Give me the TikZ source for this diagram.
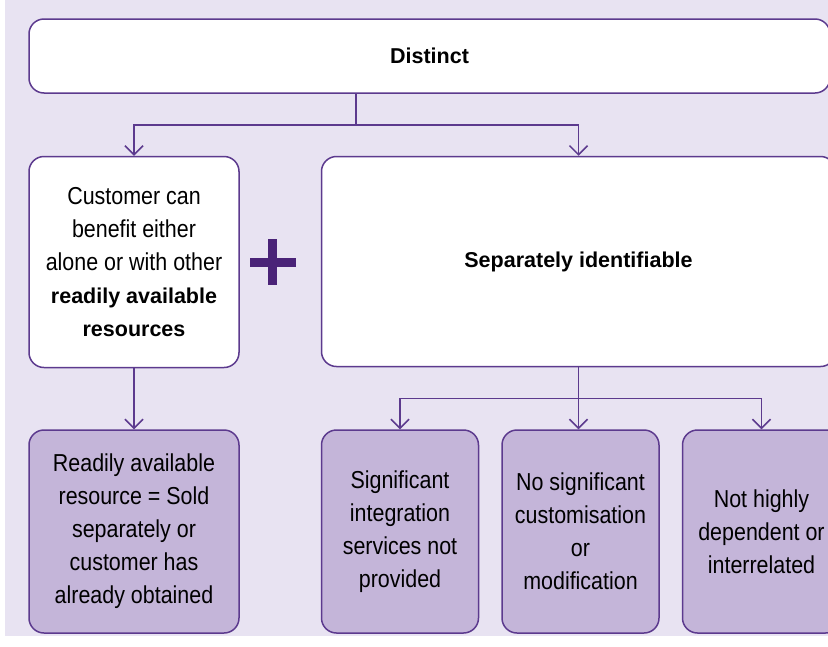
\documentclass[tikz,border=0pt]{standalone}
\usepackage{fontspec}
\setmainfont{Liberation Sans}
\newfontfamily\condfont[FakeStretch=0.875]{Liberation Sans}
\usetikzlibrary{positioning}
\usetikzlibrary{arrows.meta}
\definecolor{bgLav}{HTML}{E8E3F2}
\definecolor{lineP}{HTML}{5C3A8E}
\definecolor{fillP}{HTML}{C4B5D9}
\definecolor{plusP}{HTML}{4A2378}
\newcommand{\Tbody}{\condfont\fontsize{24.5}{33}\selectfont}
\newcommand{\Thead}{\rmfamily\bfseries\fontsize{21.5}{33}\selectfont}
\tikzstyle{critW} = [rectangle, rounded corners=15pt, draw=lineP, line width=1.5pt, fill=white, align=center, inner sep=0pt, font=\Tbody]
\tikzstyle{critP} = [critW, fill=fillP]
\tikzstyle{link} = [draw=lineP, line width=1.5pt]
\tikzstyle{linkD} = [link, -{Straight Barb[length=9pt,width=18pt]}]

\begin{document}
\begin{tikzpicture}[x=1pt, y=-1pt]
\useasboundingbox (0,0) rectangle (828,646);
\fill[bgLav] (5,0) rectangle (828,636);

% Define nodes
\node[critW, minimum width=801pt, minimum height=74pt]              (top)    at (429.5,56) {\Thead Distinct};
\node[critW, below right = 62pt and 0pt of top.south west, minimum width=210pt, minimum height=211pt] (benefit)
  {Customer can\\benefit either\\alone or with other\\{\Thead readily available}\\{\Thead resources}};
\node[critW, right = 81pt of benefit.north east, anchor=north west, minimum width=514pt, minimum height=210pt] (ident)
  {\Thead Separately identifiable};

\node[critP, below right = 61pt and 0pt of benefit.south west, minimum width=210pt, minimum height=203pt] (ready)
  {Readily available\\resource = Sold\\separately or\\customer has\\already obtained};
\node[critP, below right = 62pt and 0pt of ident.south west, minimum width=157pt, minimum height=203pt] (integ)
  {Significant\\integration\\services not\\provided};
\node[critP, right = 22pt of integ, minimum width=157pt, minimum height=203pt] (custom)
  {No significant\\customisation\\or\\modification};
\node[critP, right = 22pt of custom, minimum width=158pt, minimum height=203pt] (depend)
  {Not highly\\dependent or\\interrelated};

% plus sign
\coordinate[right = 33pt of benefit.east] (plus);
\fill[plusP] ([xshift=-23pt, yshift=-4.5pt]plus) rectangle ([xshift=23pt, yshift=4.5pt]plus);
\fill[plusP] ([xshift=-4.5pt, yshift=-23pt]plus) rectangle ([xshift=4.5pt, yshift=23pt]plus);

% Edges
\coordinate[below = 31pt of top.south, xshift=-73.5pt] (split);
\draw[link]  (top.south -| split) -- (split);
\draw[linkD] (split) -| (benefit.north);
\draw[linkD] (split) -| (ident.north);
\draw[linkD] (benefit.south) -- (ready.north);

\coordinate[below = 31pt of ident.south] (split2);
\draw[link]  (ident.south) -- (split2);
\draw[linkD] (split2) -| (integ.north);
\draw[linkD] (split2) -- (split2 |- custom.north);
\draw[linkD] (split2) -| (depend.north);
\end{tikzpicture}
\end{document}
